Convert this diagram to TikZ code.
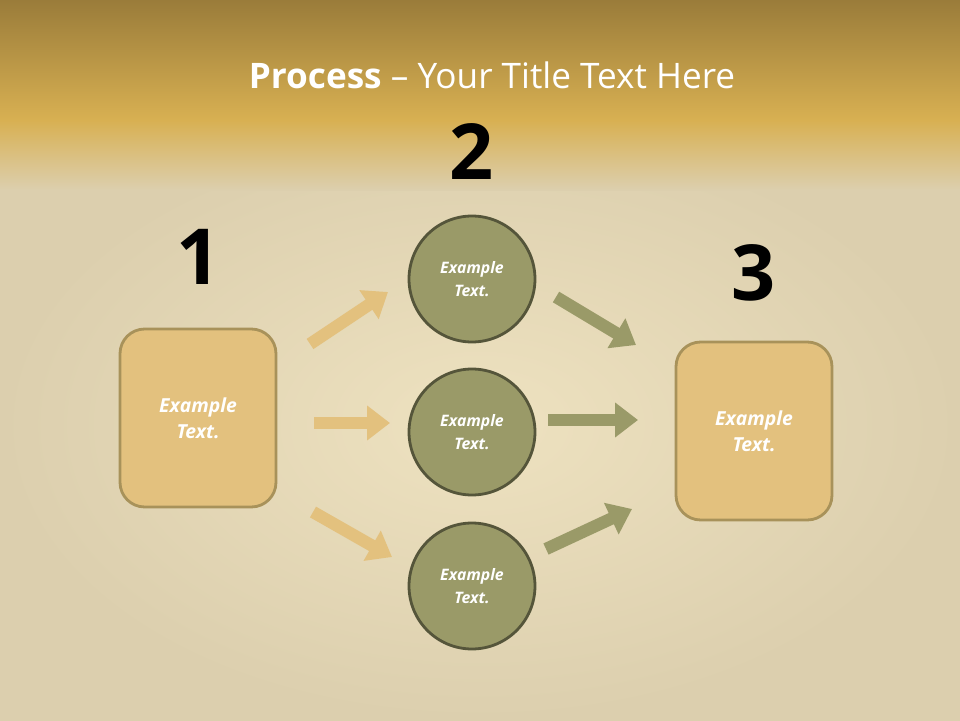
\documentclass[tikz,border=0pt]{standalone}
\usepackage{fontspec}
\setmainfont{Open Sans}
\usetikzlibrary{arrows.meta}
\definecolor{gold}{HTML}{E3C17E}
\definecolor{goldb}{HTML}{A8925A}
\definecolor{olive}{HTML}{9A9A68}
\definecolor{oliveb}{HTML}{55553A}
\definecolor{bgtop}{HTML}{9A7C3A}
\definecolor{bgmid}{HTML}{D8B052}
\definecolor{parch}{HTML}{EEE2C0}
\definecolor{parchb}{HTML}{DCCFAE}
\tikzset{
 boxs/.style={draw=goldb,line width=1.6pt,fill=gold,rounded corners=14pt,minimum width=3.12cm,minimum height=3.56cm,text=white,font=\bfseries\itshape\fontsize{11}{15}\selectfont,align=center},
 circs/.style={circle,draw=oliveb,line width=1.6pt,fill=olive,minimum size=2.52cm,text=white,font=\bfseries\itshape\fontsize{9}{13}\selectfont,align=center},
 num/.style={font=\bfseries\fontsize{44}{48}\selectfont,text=black},
 garr/.style={draw=gold,line width=7pt,-{Triangle[length=13pt,width=19pt]}},
 oarr/.style={draw=olive,line width=7pt,-{Triangle[length=13pt,width=19pt]}}
}
\begin{document}
\begin{tikzpicture}[x=0.02cm,y=-0.02cm]
\useasboundingbox (0,0) rectangle (960,720);
\fill[parch] (0,0) rectangle (960,720);
\shade[inner color=parch,outer color=parchb] (0,130) rectangle (960,720);
\shade[top color=bgtop,bottom color=bgmid] (0,0) rectangle (960,120);
\shade[top color=bgmid,bottom color=parchb] (0,120) rectangle (960,190);
\node[text=white,font=\fontsize{20}{24}\selectfont] (title) at (492,75) {\textbf{Process} – Your Title Text Here};
\node[boxs] (b1) at (198,418) {Example\\Text.};
\node[boxs] (b3) at (754,431) {Example\\Text.};
\node[circs] (c1) at (472,279) {Example\\Text.};
\node[circs] (c2) at (472,432) {Example\\Text.};
\node[circs] (c3) at (472,586) {Example\\Text.};
\node[num] (n1) at (199,257) {1};
\node[num] (n2) at (472,152) {2};
\node[num] (n3) at (754,273) {3};
\coordinate (a1s) at (310,344); \coordinate (a1e) at (388,292);
\coordinate (a2s) at (314,423); \coordinate (a2e) at (390,423);
\coordinate (a3s) at (313,512); \coordinate (a3e) at (392,557);
\coordinate (d1s) at (556,297); \coordinate (d1e) at (636,345);
\coordinate (d2s) at (548,420); \coordinate (d2e) at (638,420);
\coordinate (d3s) at (546,549); \coordinate (d3e) at (632,509);
\draw[garr] (a1s) -- (a1e);
\draw[garr] (a2s) -- (a2e);
\draw[garr] (a3s) -- (a3e);
\draw[oarr] (d1s) -- (d1e);
\draw[oarr] (d2s) -- (d2e);
\draw[oarr] (d3s) -- (d3e);
\end{tikzpicture}
\end{document}
